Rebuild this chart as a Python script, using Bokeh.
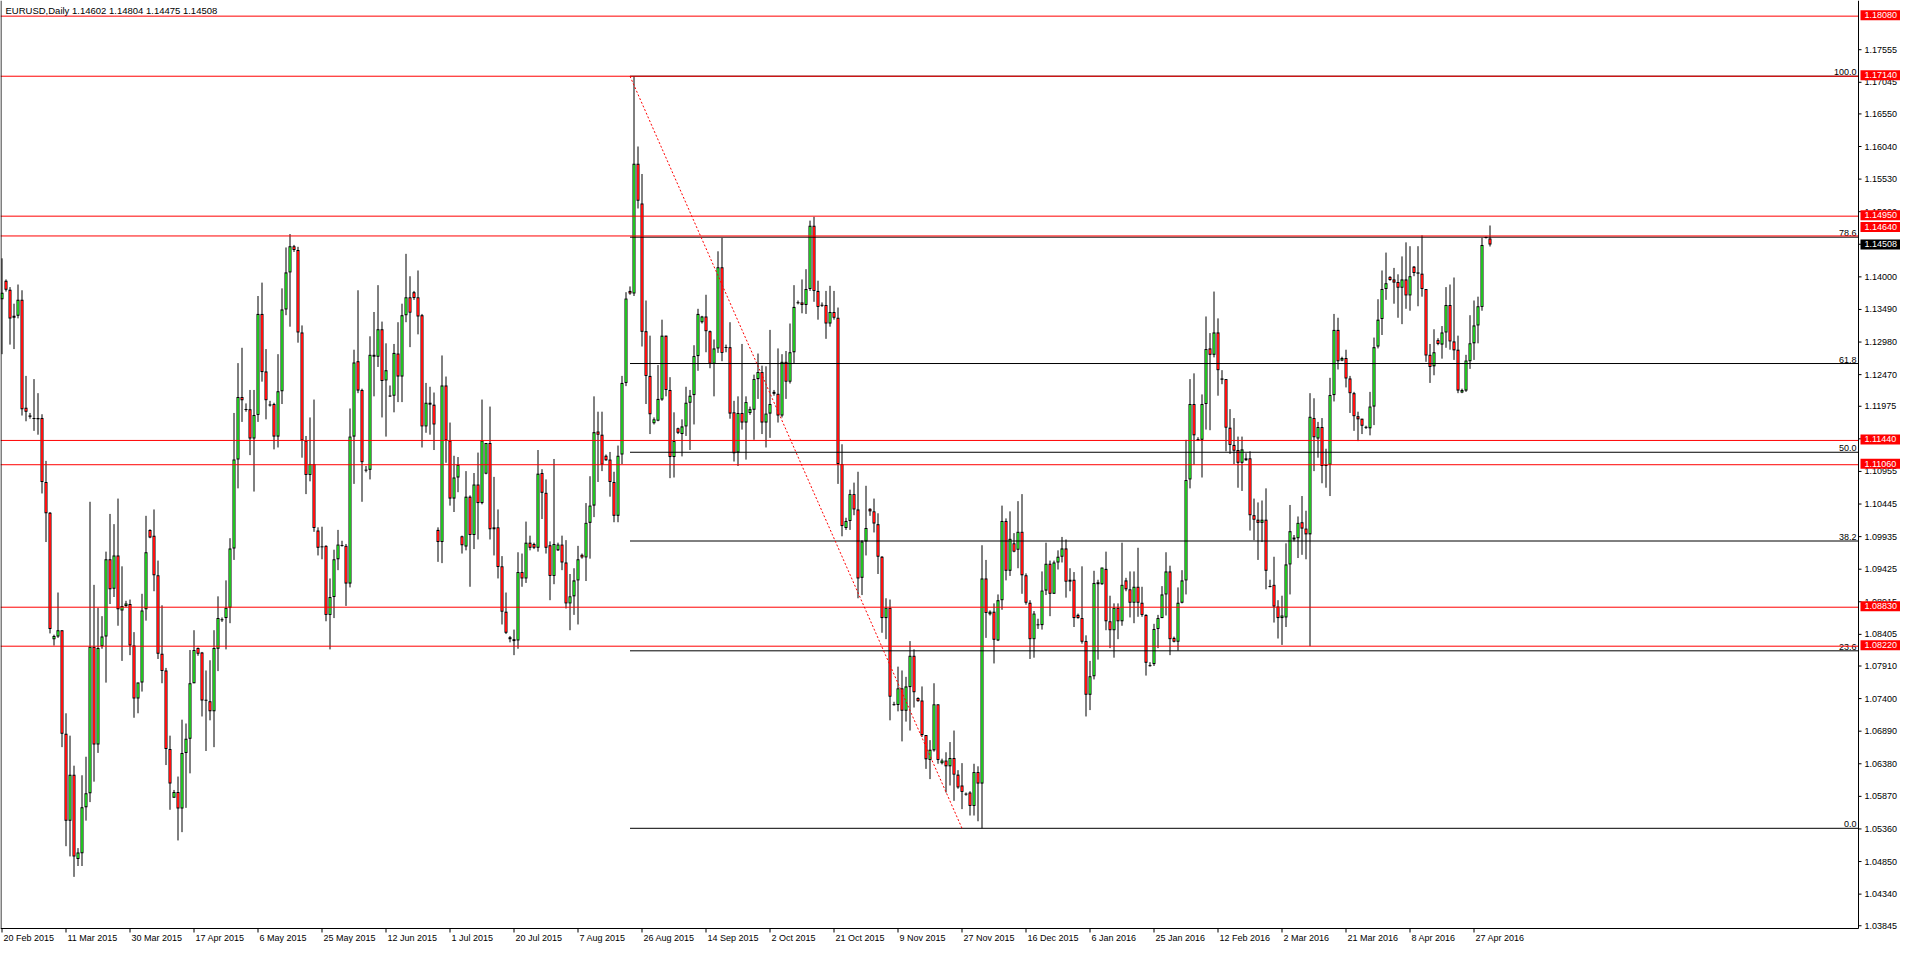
from bokeh.plotting import figure
from bokeh.models import ColumnDataSource, Range1d
from bokeh.core.properties import value
from bokeh.embed import file_html
from bokeh.resources import INLINE

# ---------------- data ----------------
symbol = "EURUSD"
timeframe = "Daily"

opens = [
    1.1365, 1.1394, 1.1380, 1.1339, 1.1339, 1.1364, 1.1195, 1.1183, 1.1179, 1.1179,
    1.1179, 1.1079, 1.1031, 1.0833, 1.0837, 1.0847, 1.0685, 1.0549, 1.0621, 1.0489,
    1.0498, 1.0570, 1.0592, 1.0821, 1.0668, 1.0822, 1.0837, 1.0958, 1.0912, 1.0964,
    1.0878, 1.0885, 1.0888, 1.0823, 1.0740, 1.0765, 1.0880, 1.1004, 1.0995, 1.0933,
    1.0810, 1.0784, 1.0661, 1.0585, 1.0594, 1.0568, 1.0655, 1.0677, 1.0764, 1.0819,
    1.0812, 1.0738, 1.0736, 1.0720, 1.0818, 1.0864, 1.0866, 1.0882, 1.0975, 1.1114,
    1.1212, 1.1193, 1.1193, 1.1147, 1.1184, 1.1342, 1.1252, 1.1200, 1.1201, 1.1150,
    1.1221, 1.1349, 1.1407, 1.1448, 1.1442, 1.1313, 1.1144, 1.1090, 1.1107, 1.1003,
    1.0978, 1.0979, 1.0871, 1.0899, 1.0958, 1.0980, 1.0979, 1.0920, 1.1150, 1.1268,
    1.1223, 1.1098, 1.1098, 1.1278, 1.1275, 1.1318, 1.1238, 1.1214, 1.1214, 1.1280,
    1.1244, 1.1340, 1.1368, 1.1376, 1.1368, 1.1340, 1.1166, 1.1203, 1.1200, 1.1004,
    1.0985, 1.1230, 1.1144, 1.1053, 1.1086, 1.0994, 1.0978, 1.1056, 1.0996, 1.1075,
    1.1046, 1.1092, 1.1140, 1.1008, 1.1008, 1.0947, 1.0876, 1.0836, 1.0833, 1.0831,
    1.0938, 1.0928, 1.0984, 1.0982, 1.0976, 1.1093, 1.1062, 1.0980, 1.0932, 1.0972,
    1.0981, 1.0953, 1.0889, 1.0900, 1.0925, 1.0965, 1.0961, 1.1015, 1.1042, 1.1158,
    1.1153, 1.1120, 1.1114, 1.1079, 1.1026, 1.1122, 1.1234, 1.1378, 1.1374, 1.1577,
    1.1515, 1.1315, 1.1245, 1.1171, 1.1175, 1.1208, 1.1308, 1.1223, 1.1118, 1.1163,
    1.1154, 1.1166, 1.1203, 1.1215, 1.1276, 1.1329, 1.1338, 1.1315, 1.1264, 1.1288,
    1.1415, 1.1290, 1.1290, 1.1188, 1.1125, 1.1187, 1.1172, 1.1187, 1.1192, 1.1240,
    1.1251, 1.1172, 1.1186, 1.1220, 1.1217, 1.1183, 1.1267, 1.1236, 1.1282, 1.1360,
    1.1360, 1.1356, 1.1381, 1.1480, 1.1378, 1.1356, 1.1356, 1.1327, 1.1345, 1.1336,
    1.1107, 1.1007, 1.1018, 1.1060, 1.1036, 1.0929, 1.0986, 1.1037, 1.1033, 1.1013,
    1.0962, 1.0866, 1.0882, 1.0731, 1.0730, 1.0756, 1.0721, 1.0758, 1.0807, 1.0741,
    1.0737, 1.0683, 1.0644, 1.0659, 1.0731, 1.0639, 1.0643, 1.0634, 1.0647, 1.0621,
    1.0604, 1.0591, 1.0593, 1.0572, 1.0625, 1.0607, 1.0928, 1.0872, 1.0876, 1.0831,
    1.0894, 1.1018, 1.0940, 1.0983, 1.0973, 1.1001, 1.0933, 1.0890, 1.0833, 1.0856,
    1.0855, 1.0909, 1.0951, 1.0904, 1.0953, 1.0962, 1.0975, 1.0923, 1.0926, 1.0871,
    1.0866, 1.0830, 1.0746, 1.0775, 1.0919, 1.0919, 1.0943, 1.0861, 1.0847, 1.0882,
    1.0861, 1.0925, 1.0911, 1.0890, 1.0915, 1.0890, 1.0871, 1.0792, 1.0794, 1.0849,
    1.0866, 1.0903, 1.0939, 1.0835, 1.0829, 1.0890, 1.0925, 1.1083, 1.1201, 1.1146,
    1.1145, 1.1201, 1.1288, 1.1278, 1.1313, 1.1241, 1.1240, 1.1164, 1.1137, 1.1129,
    1.1109, 1.1113, 1.1116, 1.1027, 1.1020, 1.1015, 1.1020, 1.0916, 1.0918, 1.0884,
    1.0866, 1.0867, 1.0950, 1.0989, 1.0991, 1.1016, 1.1006, 1.0997, 1.1179, 1.1147,
    1.1165, 1.1106, 1.1106, 1.1215, 1.1317, 1.1269, 1.1273, 1.1241, 1.1218, 1.1182,
    1.1178, 1.1165, 1.1163, 1.1197, 1.1291, 1.1334, 1.1381, 1.1400, 1.1396, 1.1392,
    1.1383, 1.1396, 1.1371, 1.1416, 1.1407, 1.1405, 1.1381, 1.1278, 1.1260, 1.1301,
    1.1294, 1.1313, 1.1356, 1.1299, 1.1286, 1.1219, 1.1222, 1.1268, 1.1296, 1.1324,
    1.1353, 1.1462, 1.14602,
]

highs = [
    1.1429, 1.1396, 1.1384, 1.1358, 1.1388, 1.1379, 1.1245, 1.1187, 1.1240, 1.1218,
    1.1185, 1.1112, 1.1032, 1.0840, 1.0906, 1.0847, 1.0717, 1.0682, 1.0635, 1.0506,
    1.0620, 1.0649, 1.1048, 1.0918, 1.0882, 1.0869, 1.0970, 1.1029, 1.1013, 1.1053,
    1.0947, 1.0893, 1.0895, 1.0844, 1.0765, 1.0904, 1.1026, 1.1005, 1.1036, 1.0956,
    1.0886, 1.0788, 1.0682, 1.0597, 1.0618, 1.0707, 1.0701, 1.0816, 1.0847, 1.0820,
    1.0813, 1.0784, 1.0800, 1.0847, 1.0900, 1.0867, 1.0925, 1.0991, 1.1187, 1.1265,
    1.1289, 1.1202, 1.1223, 1.1223, 1.1370, 1.1391, 1.1287, 1.1206, 1.1203, 1.1279,
    1.1382, 1.1446, 1.1467, 1.1450, 1.1447, 1.1324, 1.1151, 1.1180, 1.1208, 1.1008,
    1.1009, 1.0980, 1.0928, 1.0973, 1.1004, 1.0987, 1.0982, 1.1194, 1.1286, 1.1379,
    1.1225, 1.1104, 1.1307, 1.1345, 1.1387, 1.1330, 1.1296, 1.1230, 1.1295, 1.1329,
    1.1358, 1.1436, 1.1401, 1.1378, 1.1410, 1.1342, 1.1234, 1.1228, 1.1219, 1.1008,
    1.1277, 1.1244, 1.1172, 1.1120, 1.1118, 1.0995, 1.1096, 1.1058, 1.1093, 1.1125,
    1.1208, 1.1140, 1.1197, 1.1087, 1.1036, 1.0963, 1.0906, 1.0838, 1.0848, 1.0969,
    1.0967, 1.1017, 1.0995, 1.0984, 1.1129, 1.1099, 1.1083, 1.0986, 1.1115, 1.0984,
    1.0995, 1.0988, 1.0935, 1.0944, 1.0979, 1.0967, 1.1046, 1.1088, 1.1213, 1.1189,
    1.1189, 1.1122, 1.1126, 1.1095, 1.1136, 1.1245, 1.1376, 1.1385, 1.1714, 1.1604,
    1.1561, 1.1363, 1.1308, 1.1180, 1.1262, 1.1333, 1.1308, 1.1243, 1.1188, 1.1164,
    1.1177, 1.1228, 1.1223, 1.1293, 1.1350, 1.1339, 1.1372, 1.1316, 1.1302, 1.1440,
    1.1461, 1.1294, 1.1329, 1.1206, 1.1213, 1.1295, 1.1213, 1.1197, 1.1247, 1.1280,
    1.1261, 1.1260, 1.1317, 1.1223, 1.1288, 1.1279, 1.1284, 1.1327, 1.1387, 1.1363,
    1.1396, 1.1412, 1.1488, 1.1494, 1.1394, 1.1360, 1.1378, 1.1386, 1.1378, 1.1352,
    1.1138, 1.1023, 1.1067, 1.1078, 1.1095, 1.0988, 1.1073, 1.1038, 1.1053, 1.1030,
    1.0963, 1.0897, 1.0895, 1.0735, 1.0790, 1.0784, 1.0774, 1.0830, 1.0817, 1.0742,
    1.0759, 1.0683, 1.0675, 1.0764, 1.0731, 1.0646, 1.0656, 1.0672, 1.0690, 1.0628,
    1.0639, 1.0593, 1.0595, 1.0638, 1.0634, 1.0980, 1.0957, 1.0878, 1.0889, 1.0903,
    1.1042, 1.1022, 1.1033, 1.0999, 1.1049, 1.1060, 1.0936, 1.0894, 1.0877, 1.0865,
    1.0939, 1.0984, 1.0956, 1.0956, 1.0972, 1.0993, 1.0989, 1.0944, 1.0938, 1.0873,
    1.0947, 1.0839, 1.0799, 1.0940, 1.0926, 1.0945, 1.0970, 1.0901, 1.0889, 1.0889,
    1.0984, 1.0929, 1.0939, 1.0939, 1.0976, 1.0915, 1.0872, 1.0797, 1.0857, 1.0871,
    1.0916, 1.0969, 1.0948, 1.0837, 1.0914, 1.0941, 1.1145, 1.1240, 1.1249, 1.1149,
    1.1216, 1.1338, 1.1312, 1.1377, 1.1335, 1.1254, 1.1240, 1.1193, 1.1179, 1.1150,
    1.1150, 1.1124, 1.1127, 1.1053, 1.1047, 1.1050, 1.1069, 1.0926, 1.0962, 1.0894,
    1.0901, 1.0983, 1.1043, 1.0996, 1.1025, 1.1057, 1.1034, 1.1218, 1.1210, 1.1173,
    1.1179, 1.1131, 1.1242, 1.1342, 1.1336, 1.1275, 1.1286, 1.1245, 1.1220, 1.1189,
    1.1178, 1.1167, 1.1220, 1.1305, 1.1365, 1.1410, 1.1438, 1.1401, 1.1414, 1.1404,
    1.1432, 1.1454, 1.1448, 1.1417, 1.1448, 1.1465, 1.1381, 1.1295, 1.1318, 1.1304,
    1.1323, 1.1384, 1.1388, 1.1399, 1.1308, 1.1225, 1.1278, 1.1340, 1.1363, 1.1369,
    1.1461, 1.1463, 1.14804,
]

lows = [
    1.1279, 1.1377, 1.1294, 1.1287, 1.1335, 1.1183, 1.1174, 1.1178, 1.1159, 1.1153,
    1.1061, 1.0985, 1.0842, 1.0823, 1.0835, 1.0664, 1.0509, 1.0493, 1.0461, 1.0478,
    1.0478, 1.0549, 1.0578, 1.0610, 1.0655, 1.0818, 1.0765, 1.0888, 1.0899, 1.0854,
    1.0799, 1.0883, 1.0808, 1.0710, 1.0717, 1.0751, 1.0862, 1.0991, 1.0908, 1.0802,
    1.0764, 1.0636, 1.0566, 1.0585, 1.0518, 1.0531, 1.0569, 1.0623, 1.0764, 1.0807,
    1.0712, 1.0658, 1.0706, 1.0664, 1.0783, 1.0860, 1.0817, 1.0858, 1.0957, 1.1069,
    1.1173, 1.1189, 1.1121, 1.1064, 1.1173, 1.1236, 1.1177, 1.1197, 1.1130, 1.1133,
    1.1201, 1.1340, 1.1322, 1.1439, 1.1297, 1.1117, 1.1060, 1.1080, 1.1001, 1.0964,
    1.0958, 1.0861, 1.0817, 1.0866, 1.0941, 1.0978, 1.0885, 1.0914, 1.1076, 1.1218,
    1.1048, 1.1094, 1.1083, 1.1213, 1.1259, 1.1180, 1.1150, 1.1212, 1.1188, 1.1204,
    1.1204, 1.1329, 1.1290, 1.1364, 1.1310, 1.1133, 1.1156, 1.1153, 1.1129, 1.0954,
    1.0952, 1.1109, 1.1042, 1.1032, 1.1063, 1.0967, 1.0972, 1.0915, 1.0974, 1.0989,
    1.1044, 1.1091, 1.0989, 1.0964, 1.0928, 1.0856, 1.0841, 1.0828, 1.0808, 1.0818,
    1.0915, 1.0921, 1.0972, 1.0974, 1.0970, 1.1021, 1.0967, 1.0894, 1.0919, 1.0971,
    1.0941, 1.0881, 1.0847, 1.0871, 1.0856, 1.0959, 1.0924, 1.0959, 1.1024, 1.1079,
    1.1096, 1.1112, 1.1056, 1.1016, 1.1016, 1.1107, 1.1229, 1.1372, 1.1370, 1.1507,
    1.1291, 1.1201, 1.1154, 1.1169, 1.1174, 1.1206, 1.1213, 1.1085, 1.1086, 1.1154,
    1.1119, 1.1151, 1.1129, 1.1169, 1.1253, 1.1327, 1.1282, 1.1257, 1.1213, 1.1281,
    1.1268, 1.1282, 1.1178, 1.1111, 1.1104, 1.1161, 1.1114, 1.1184, 1.1145, 1.1209,
    1.1154, 1.1133, 1.1148, 1.1214, 1.1172, 1.1180, 1.1209, 1.1233, 1.1264, 1.1357,
    1.1343, 1.1342, 1.1378, 1.1361, 1.1333, 1.1353, 1.1303, 1.1322, 1.1333, 1.1076,
    1.0994, 1.1004, 1.1004, 1.1027, 1.0897, 1.0902, 1.0964, 1.1026, 1.1000, 1.0935,
    1.0843, 1.0833, 1.0706, 1.0729, 1.0720, 1.0673, 1.0704, 1.0690, 1.0726, 1.0735,
    1.0680, 1.0630, 1.0614, 1.0657, 1.0638, 1.0637, 1.0593, 1.0604, 1.0580, 1.0599,
    1.0567, 1.0588, 1.0557, 1.0557, 1.0548, 1.0537, 1.0835, 1.0870, 1.0795, 1.0830,
    1.0879, 1.0925, 1.0932, 1.0969, 1.0944, 1.0904, 1.0887, 1.0802, 1.0804, 1.0849,
    1.0848, 1.0902, 1.0869, 1.0904, 1.0942, 1.0953, 1.0898, 1.0908, 1.0852, 1.0865,
    1.0826, 1.0712, 1.0722, 1.0770, 1.0801, 1.0918, 1.0847, 1.0819, 1.0804, 1.0833,
    1.0854, 1.0908, 1.0867, 1.0858, 1.0868, 1.0868, 1.0776, 1.0790, 1.0791, 1.0819,
    1.0866, 1.0870, 1.0808, 1.0828, 1.0815, 1.0889, 1.0903, 1.1069, 1.1106, 1.1143,
    1.1086, 1.1161, 1.1160, 1.1274, 1.1214, 1.1232, 1.1127, 1.1123, 1.1107, 1.1070,
    1.1065, 1.1112, 1.1003, 1.0988, 1.0957, 1.0985, 1.0911, 1.0914, 1.0859, 1.0834,
    1.0824, 1.0852, 1.0903, 1.0986, 1.0960, 1.0965, 1.0958, 1.0822, 1.1096, 1.1117,
    1.1077, 1.1070, 1.1057, 1.1205, 1.1255, 1.1268, 1.1227, 1.1187, 1.1159, 1.1143,
    1.1154, 1.1162, 1.1152, 1.1168, 1.1288, 1.1309, 1.1364, 1.1394, 1.1358, 1.1336,
    1.1326, 1.1350, 1.1347, 1.1401, 1.1354, 1.1369, 1.1267, 1.1234, 1.1246, 1.1293,
    1.1272, 1.1289, 1.1286, 1.1270, 1.1218, 1.1218, 1.1220, 1.1256, 1.1270, 1.1296,
    1.1347, 1.1460, 1.14475,
]

closes = [
    1.1375, 1.1380, 1.1335, 1.1336, 1.1364, 1.1193, 1.1189, 1.1181, 1.1178, 1.1177,
    1.1079, 1.1030, 1.0849, 1.0838, 1.0847, 1.0685, 1.0549, 1.0621, 1.0493, 1.0499,
    1.0570, 1.0592, 1.0821, 1.0668, 1.0819, 1.0837, 1.0958, 1.0911, 1.0964, 1.0880,
    1.0885, 1.0889, 1.0823, 1.0740, 1.0765, 1.0878, 1.0969, 1.0992, 1.0933, 1.0810,
    1.0783, 1.0661, 1.0607, 1.0594, 1.0568, 1.0655, 1.0677, 1.0764, 1.0816, 1.0810,
    1.0737, 1.0737, 1.0720, 1.0819, 1.0866, 1.0863, 1.0882, 1.0975, 1.1114, 1.1212,
    1.1207, 1.1192, 1.1147, 1.1184, 1.1342, 1.1251, 1.1207, 1.1199, 1.1150, 1.1221,
    1.1349, 1.1407, 1.1448, 1.1442, 1.1313, 1.1144, 1.1090, 1.1107, 1.1007, 1.0976,
    1.0977, 1.0871, 1.0899, 1.0958, 1.0981, 1.0979, 1.0920, 1.1150, 1.1266, 1.1222,
    1.1110, 1.1097, 1.1278, 1.1275, 1.1318, 1.1237, 1.1254, 1.1213, 1.1281, 1.1244,
    1.1340, 1.1368, 1.1344, 1.1367, 1.1338, 1.1166, 1.1203, 1.1200, 1.1169, 1.0985,
    1.1230, 1.1144, 1.1053, 1.1086, 1.1106, 1.0980, 1.1056, 1.0996, 1.1075, 1.1046,
    1.1144, 1.1140, 1.1005, 1.1005, 1.0946, 1.0876, 1.0843, 1.0833, 1.0830, 1.0938,
    1.0928, 1.0984, 1.0976, 1.0976, 1.1092, 1.1062, 1.0976, 1.0932, 1.0982, 1.0981,
    1.0953, 1.0889, 1.0900, 1.0925, 1.0958, 1.0961, 1.1015, 1.1042, 1.1157, 1.1153,
    1.1106, 1.1113, 1.1079, 1.1026, 1.1120, 1.1234, 1.1366, 1.1374, 1.1577, 1.1519,
    1.1314, 1.1245, 1.1185, 1.1177, 1.1209, 1.1308, 1.1223, 1.1118, 1.1143, 1.1156,
    1.1166, 1.1203, 1.1214, 1.1276, 1.1342, 1.1338, 1.1315, 1.1264, 1.1288, 1.1415,
    1.1281, 1.1289, 1.1186, 1.1124, 1.1187, 1.1172, 1.1204, 1.1193, 1.1240, 1.1251,
    1.1172, 1.1186, 1.1201, 1.1217, 1.1183, 1.1267, 1.1236, 1.1282, 1.1353, 1.1359,
    1.1356, 1.1381, 1.1480, 1.1378, 1.1353, 1.1355, 1.1327, 1.1345, 1.1336, 1.1107,
    1.1010, 1.1018, 1.1060, 1.1036, 1.0928, 1.0986, 1.1007, 1.1033, 1.1014, 1.0962,
    1.0866, 1.0882, 1.0743, 1.0730, 1.0756, 1.0721, 1.0759, 1.0807, 1.0750, 1.0736,
    1.0683, 1.0645, 1.0660, 1.0731, 1.0644, 1.0643, 1.0634, 1.0647, 1.0621, 1.0601,
    1.0594, 1.0590, 1.0572, 1.0625, 1.0607, 1.0928, 1.0874, 1.0876, 1.0832, 1.0894,
    1.1018, 1.0940, 1.0990, 1.0970, 1.1001, 1.0933, 1.0890, 1.0833, 1.0873, 1.0855,
    1.0909, 1.0951, 1.0904, 1.0953, 1.0962, 1.0975, 1.0923, 1.0926, 1.0866, 1.0866,
    1.0829, 1.0746, 1.0775, 1.0921, 1.0922, 1.0945, 1.0861, 1.0847, 1.0882, 1.0861,
    1.0918, 1.0911, 1.0890, 1.0915, 1.0890, 1.0871, 1.0796, 1.0791, 1.0849, 1.0866,
    1.0903, 1.0939, 1.0833, 1.0829, 1.0890, 1.0925, 1.1082, 1.1201, 1.1152, 1.1144,
    1.1201, 1.1287, 1.1278, 1.1313, 1.1254, 1.1239, 1.1164, 1.1137, 1.1128, 1.1109,
    1.1130, 1.1116, 1.1027, 1.1020, 1.1015, 1.1020, 1.0940, 1.0915, 1.0884, 1.0866,
    1.0870, 1.0950, 1.1002, 1.0992, 1.1015, 1.1006, 1.0997, 1.1181, 1.1149, 1.1165,
    1.1104, 1.1104, 1.1215, 1.1317, 1.1268, 1.1273, 1.1241, 1.1218, 1.1182, 1.1177,
    1.1167, 1.1164, 1.1197, 1.1290, 1.1333, 1.1381, 1.1390, 1.1395, 1.1391, 1.1383,
    1.1396, 1.1371, 1.1401, 1.1406, 1.1405, 1.1381, 1.1277, 1.1259, 1.1282, 1.1295,
    1.1313, 1.1356, 1.1299, 1.1285, 1.1222, 1.1223, 1.1269, 1.1296, 1.1324, 1.1354,
    1.1450, 1.1461, 1.14508,
]

# bar index of each date label on the time axis
label_bars = [0, 16, 32, 48, 64, 80, 96, 112, 128, 144, 160, 176,
              192, 208, 224, 240, 256, 272, 288, 304, 320, 336, 352, 368]
date_labels = ["20 Feb 2015", "11 Mar 2015", "30 Mar 2015", "17 Apr 2015", "6 May 2015",
               "25 May 2015", "12 Jun 2015", "1 Jul 2015", "20 Jul 2015", "7 Aug 2015",
               "26 Aug 2015", "14 Sep 2015", "2 Oct 2015", "21 Oct 2015", "9 Nov 2015",
               "27 Nov 2015", "16 Dec 2015", "6 Jan 2016", "25 Jan 2016", "12 Feb 2016",
               "2 Mar 2016", "21 Mar 2016", "8 Apr 2016", "27 Apr 2016"]

price_ticks = [1.17555, 1.17045, 1.16550, 1.16040, 1.15530, 1.15020, 1.14510, 1.14000,
               1.13490, 1.12980, 1.12470, 1.11975, 1.11465, 1.10955, 1.10445, 1.09935,
               1.09425, 1.08915, 1.08405, 1.07910, 1.07400, 1.06890, 1.06380, 1.05870,
               1.05360, 1.04850, 1.04340, 1.03845]

hline_levels = [1.18080, 1.17140, 1.14950, 1.14640, 1.11440, 1.11060, 1.08830, 1.08220]

fib_high = 1.1714
fib_low = 1.0537
fib_high_bar = 157
fib_low_bar = 240
fib_ratios = [100.0, 78.6, 61.8, 50.0, 38.2, 23.6, 0.0]

assert len(opens) == len(highs) == len(lows) == len(closes)

# ---------------- layout / style ----------------
W, H = 1900, 948                 # whole canvas (frame covers it all)
CHART_W, CHART_H = 1858, 928     # price area inside it
BAR_PX = 4
X_START = -0.375
PXX = 1.0 / BAR_PX               # bars per pixel
X_AXIS = X_START + CHART_W * PXX
X_FULL = X_START + W * PXX
Y_LO, Y_HI = 1.03802, 1.18325
PXY = (Y_HI - Y_LO) / CHART_H    # price per pixel
Y_FULL = Y_LO - (H - CHART_H) * PXY
FONT = "Liberation Sans"
FS = "9px"
BULL = "#22c322"
BEAR = "#ff1010"
tag_shift_px = {1.14640: 9}      # tag moved up to avoid the bid tag

n = len(closes)
bars = list(range(n))
body_top = [max(a, b) for a, b in zip(opens, closes)]
body_bot = [min(a, b) for a, b in zip(opens, closes)]
# outer (black) body is at least one pixel tall; inner colour sits one pixel inside it
out_top = [t if t - b >= PXY else (t + b) / 2 + PXY / 2 for t, b in zip(body_top, body_bot)]
out_bot = [b if t - b >= PXY else (t + b) / 2 - PXY / 2 for t, b in zip(body_top, body_bot)]
in_top = [t - PXY if t - b > 2 * PXY else (t + b) / 2 for t, b in zip(body_top, body_bot)]
in_bot = [b + PXY if t - b > 2 * PXY else (t + b) / 2 for t, b in zip(body_top, body_bot)]
src = ColumnDataSource(dict(
    x=bars, o=opens, h=highs, l=lows, c=closes,
    ot=out_top, ob=out_bot, it=in_top, ib=in_bot,
    color=[BULL if c >= o else BEAR for o, c in zip(opens, closes)],
))

p = figure(width=W, height=H, x_range=Range1d(X_START, X_FULL), y_range=Range1d(Y_FULL, Y_HI),
           output_backend="svg", toolbar_location=None, title=None,
           x_axis_location=None, y_axis_location=None,
           min_border_left=0, min_border_top=0, min_border_right=0, min_border_bottom=0)
p.background_fill_color = "white"
p.border_fill_color = "white"
p.outline_line_color = None
p.xgrid.visible = False
p.ygrid.visible = False

def txt(x, y, t, align="left", baseline="middle", color="black", size=FS):
    p.text(x=x, y=y, text=t, text_align=align, text_baseline=baseline,
           text_font=value(FONT), text_font_size=value(size), text_color=color)

# candles: wick, black body, coloured core
p.segment(x0="x", y0="h", x1="x", y1="l", source=src, line_color="black", line_width=1)
p.vbar(x="x", width=3 * PXX, top="ot", bottom="ob", source=src,
       fill_color="black", line_color=None)
p.vbar(x="x", width=2 * PXX, top="it", bottom="ib", source=src,
       fill_color="color", line_color=None)

# fibonacci levels (ray from the first anchor to the chart edge)
fib_levels = [fib_low + r / 100.0 * (fib_high - fib_low) for r in fib_ratios]
p.segment(x0=[fib_high_bar] * len(fib_levels), y0=fib_levels,
          x1=[X_AXIS] * len(fib_levels), y1=fib_levels, line_color="black", line_width=1)
txt([X_AXIS - 2 * PXX] * len(fib_levels), [lv + 1 * PXY for lv in fib_levels],
    [f"{r:.1f}" for r in fib_ratios], align="right", baseline="bottom")

# trend line between the fib anchors
p.line(x=[fib_high_bar, fib_low_bar], y=[fib_high, fib_low],
       line_color="red", line_width=1, line_dash="2 2")

# horizontal red levels
p.segment(x0=[X_START] * len(hline_levels), y0=hline_levels,
          x1=[X_AXIS] * len(hline_levels), y1=hline_levels, line_color="red", line_width=1)

# frame lines: left border, bottom (time) axis, right (price) axis
p.segment(x0=[X_START + 0.5 * PXX, X_START, X_AXIS], y0=[Y_LO, Y_LO, Y_LO],
          x1=[X_START + 0.5 * PXX, X_AXIS, X_AXIS], y1=[Y_HI, Y_LO, Y_HI],
          line_color="black", line_width=1)

# price ticks + labels
p.segment(x0=[X_AXIS] * len(price_ticks), y0=price_ticks,
          x1=[X_AXIS + 3 * PXX] * len(price_ticks), y1=price_ticks, line_color="black")
txt([X_AXIS + 6 * PXX] * len(price_ticks), price_ticks, [f"{t:.5f}" for t in price_ticks])

# date ticks + labels
p.segment(x0=label_bars, y0=[Y_LO] * len(label_bars), x1=label_bars,
          y1=[Y_LO - 4 * PXY] * len(label_bars), line_color="black")
txt([b + 1.5 * PXX for b in label_bars], [Y_LO - 4 * PXY] * len(label_bars), date_labels,
    baseline="top")

# right-edge price tags
tag_vals = hline_levels + [closes[-1]]
tag_cols = ["red"] * len(hline_levels) + ["black"]
tag_y = [v + tag_shift_px.get(v, 1 if c == "red" else 0) * PXY for v, c in zip(tag_vals, tag_cols)]
p.quad(left=[X_AXIS + 2 * PXX] * len(tag_vals), right=[X_FULL] * len(tag_vals),
       bottom=[y - 5 * PXY for y in tag_y], top=[y + 5 * PXY for y in tag_y],
       fill_color=tag_cols, line_color=None)
txt([X_AXIS + 6 * PXX] * len(tag_vals), tag_y, [f"{v:.5f}" for v in tag_vals], color="white")

# chart header
txt([X_START + 5 * PXX], [Y_HI - 4 * PXY],
    [f"{symbol},{timeframe}  {opens[-1]:.5f} {highs[-1]:.5f} {lows[-1]:.5f} {closes[-1]:.5f}"],
    baseline="top", size="9.5px")

open("out.html", "w").write(file_html(p, INLINE))
